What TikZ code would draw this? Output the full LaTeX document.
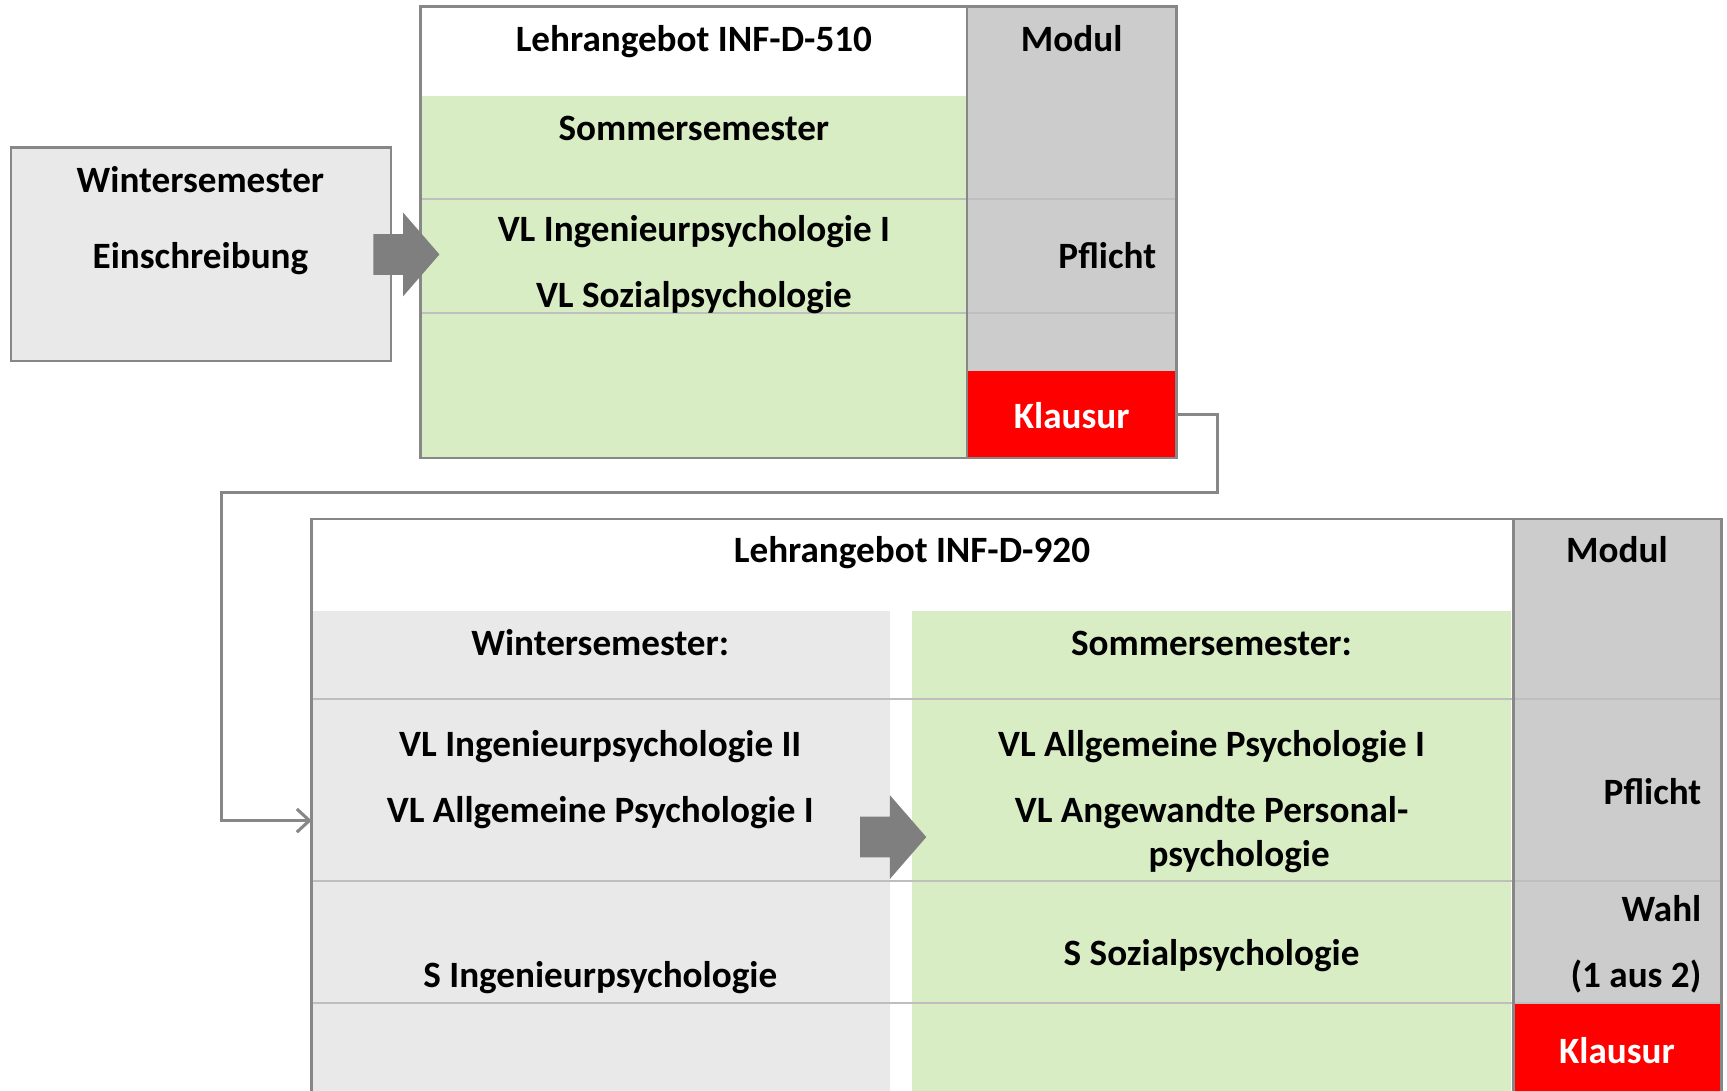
\documentclass[tikz,border=0pt]{standalone}
\usepackage{fontspec}
\setmainfont{Carlito}
\usetikzlibrary{positioning, arrows.meta}
\definecolor{framegray}{RGB}{135,135,135}
\definecolor{linegray}{RGB}{190,190,190}
\definecolor{wsgray}{RGB}{233,233,233}
\definecolor{sogreen}{RGB}{217,237,197}
\definecolor{modgray}{RGB}{204,204,204}
\definecolor{klred}{RGB}{255,0,0}
\definecolor{arrowgray}{RGB}{127,127,127}
\tikzset{
	cell/.style={anchor=north west, inner sep=0, outer sep=0},
	box/.style={draw=framegray, line width=1.2pt},
	frame/.style={draw=framegray, line width=1.3pt},
	rowline/.style={draw=linegray, line width=1pt},
	lbl/.style={anchor=base, inner sep=0, font=\bfseries\fontsize{19.2}{23}\selectfont},
	conn/.style={draw=framegray, line width=1.6pt, -{Straight Barb[length=6.5pt,width=12pt]}},
	pics/blockarrow/.style={code={
		\fill[arrowgray] (0,-18.5) -- (27,-18.5) -- (27,-38) -- (60,0) -- (27,38) -- (27,18.5) -- (0,18.5) -- cycle;
	}}
}

\begin{document}
\begin{tikzpicture}[x=0.02cm, y=-0.02cm]
	\useasboundingbox (0,0) rectangle (1568,990);
	
	% Einschreibung
	\node[cell, box, fill=wsgray, minimum width=6.9cm, minimum height=3.88cm] (ws) at (10,134) {};
	\node[lbl] (wstitle) at (182,175) {Wintersemester};
	\node[lbl] (wsein) at (182,244) {Einschreibung};
	
	% Lehrangebot INF-D-510
	\node[cell, fill=white, minimum width=9.92cm, minimum height=1.62cm] (head1) at (382,6) {};
	\node[cell, fill=sogreen, minimum width=9.92cm, minimum height=6.58cm] (body1) at (382,87) {};
	\node[cell, fill=modgray, minimum width=3.8cm, minimum height=6.62cm] (mod1) at (878,6) {};
	\node[cell, fill=klred, minimum width=3.8cm, minimum height=1.58cm] (kl1) at (878,337) {};
	\foreach \y in {181,284}
		\draw[rowline] (382,\y) -- (1068,\y);
	\draw[frame] (382,6) rectangle (1068,416);
	\draw[frame] (mod1.north west) -- (kl1.south west);
	
	\node[lbl] (t1head) at (630,47) {Lehrangebot INF-D-510};
	\node[lbl] (t1modul) at (973,47) {Modul};
	\node[lbl] (t1so) at (630,128) {Sommersemester};
	\node[lbl] (t1vla) at (630,219) {VL Ingenieurpsychologie I};
	\node[lbl] (t1vlb) at (630,279) {VL Sozialpsychologie};
	\node[lbl, anchor=base east] (t1pf) at (1050,244) {Pflicht};
	\node[lbl, text=white] (t1kl) at (973,389) {Klausur};
	
	% Lehrangebot INF-D-920
	\node[cell, fill=white, minimum width=21.82cm, minimum height=1.68cm] (head2) at (283,471) {};
	\node[cell, fill=wsgray, minimum width=10.5cm, minimum height=8.8cm] (ws2) at (283,555) {};
	\node[cell, fill=sogreen, minimum width=10.88cm, minimum height=8.8cm] (so2) at (828,555) {};
	\node[cell, fill=modgray, minimum width=3.78cm, minimum height=8.82cm] (mod2) at (1374,471) {};
	\node[cell, fill=klred, minimum width=3.78cm, minimum height=1.66cm] (kl2) at (1374,912) {};
	\foreach \y in {635,800,911}
		\draw[rowline] (283,\y) -- (1563,\y);
	\draw[frame] (283,995) -- (283,471) -- (1563,471) -- (1563,995);
	\draw[frame] (mod2.north west) -- (kl2.south west);
	
	\node[lbl] (t2head) at (828,511) {Lehrangebot INF-D-920};
	\node[lbl] (t2modul) at (1468,511) {Modul};
	\node[lbl] (t2ws) at (545,595) {Wintersemester:};
	\node[lbl] (t2so) at (1100,595) {Sommersemester:};
	\node[lbl] (t2wsa) at (545,687) {VL Ingenieurpsychologie II};
	\node[lbl] (t2wsb) at (545,747) {VL Allgemeine Psychologie I};
	\node[lbl] (t2soa) at (1100,687) {VL Allgemeine Psychologie I};
	\node[lbl] (t2sob) at (1100,747) {VL Angewandte Personal-};
	\node[lbl] (t2soc) at (1125,787) {psychologie};
	\node[lbl] (t2wss) at (545,897) {S Ingenieurpsychologie};
	\node[lbl] (t2sos) at (1100,877) {S Sozialpsychologie};
	\node[lbl, anchor=base east] (t2pf) at (1545,730) {Pflicht};
	\node[lbl, anchor=base east] (t2wahl) at (1545,837) {Wahl};
	\node[lbl, anchor=base east] (t2aus) at (1545,897) {(1 aus 2)};
	\node[lbl, text=white] (t2kl) at (1468,966) {Klausur};
	
	% Uebergaenge
	\pic at (339,231) {blockarrow};
	\pic at (781,760) {blockarrow};
	
	\coordinate (bendR) at (1105,447);
	\coordinate (bendL) at (201,447);
	\coordinate (in2) at (283,745);
	\draw[conn] (kl1.east) -| (bendR) -- (bendL) |- (in2);
\end{tikzpicture}
\end{document}
